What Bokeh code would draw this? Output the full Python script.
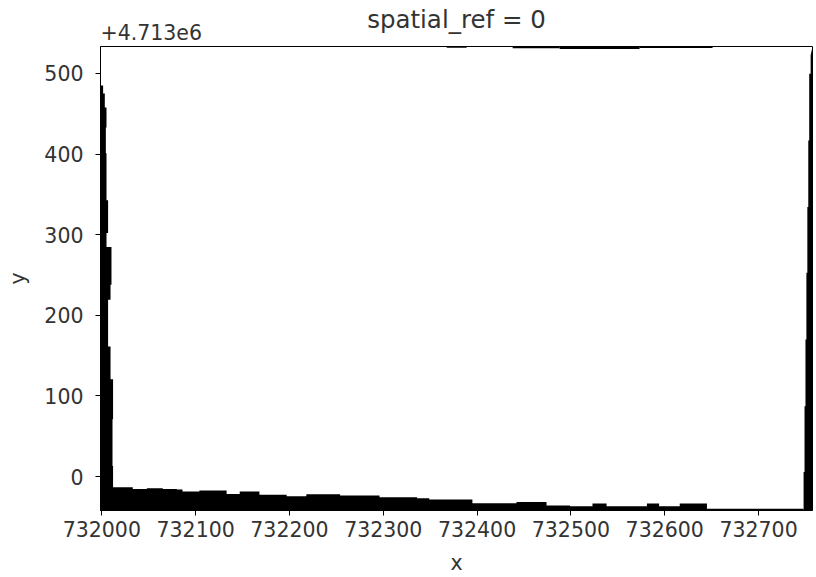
from bokeh.plotting import figure
from bokeh.models import Range1d, Title, FixedTicker, BasicTickFormatter
from bokeh.embed import file_html
from bokeh.resources import INLINE

TITLE = "spatial_ref = 0"
Y_OFFSET_TEXT = "+4.713e6"
X_LABEL = "x"
Y_LABEL = "y"

X_TICKS = [732000, 732100, 732200, 732300, 732400, 732500, 732600, 732700]
Y_TICKS = [0, 100, 200, 300, 400, 500]

# raster extent (y relative to 4.713e6)
X_EXTENT = [731998.6, 732757.5]
Y_EXTENT = [-42.0, 533.3]

# nodata band along the left edge: right boundary x, stepping down from y
LEFT_BAND_Y = [484.8, 474.9, 457.6, 432.9, 400.9, 342.8, 302.1, 284.8, 237.9, 219.4, 161.3, 120.6, 71.2, 13.2]
LEFT_BAND_X = [732001.4, 732003.2, 732005.0, 732004.3, 732005.0, 732006.7, 732005.0, 732010.3, 732009.3, 732006.7, 732009.3, 732012.0, 732011.4, 732012.0]

# nodata band along the bottom edge: top boundary y, stepping right from x
BOTTOM_BAND_X = [732011.7, 732033, 732048, 732065, 732080, 732086, 732104, 732133, 732147, 732168, 732197, 732218, 732254, 732296, 732336, 732349, 732395, 732442, 732474, 732499, 732523, 732538, 732581, 732594, 732616, 732645]
BOTTOM_BAND_Y = [-13.1, -15.2, -14.3, -15.2, -16.0, -18.5, -17.3, -21.4, -18.5, -22.6, -24.2, -21.7, -23.5, -25.5, -26.7, -28.4, -32.9, -31.6, -35.8, -36.6, -33.3, -36.6, -33.3, -36.6, -33.3, -39.9]

# nodata band along the right edge: left boundary x, stepping down from y
RIGHT_BAND_Y = [522.0, 499.6, 416.9, 334.2, 252.7, 170.0, 87.3, 5.8]
RIGHT_BAND_X = [732755.5, 732754.0, 732753.0, 732752.0, 732751.0, 732750.0, 732749.0, 732748.0]

# small nodata pieces along the top edge
TOP_BAND_X0 = [732367.6, 732437.9, 732488.0, 732573.2]
TOP_BAND_X1 = [732388.9, 732488.0, 732573.2, 732651.0]
TOP_BAND_Y = [531.8, 531.0, 530.3, 531.3]

x0, x1 = X_EXTENT
y0, y1 = Y_EXTENT

# build polygons from the boundary profiles
lb_x = [x0, x0]
lb_y = [y0, LEFT_BAND_Y[0]]
for i, (yy, xx) in enumerate(zip(LEFT_BAND_Y, LEFT_BAND_X)):
    y_next = LEFT_BAND_Y[i + 1] if i + 1 < len(LEFT_BAND_Y) else BOTTOM_BAND_Y[0]
    lb_x += [xx, xx]
    lb_y += [yy, y_next]
for i, (xx, yy) in enumerate(zip(BOTTOM_BAND_X, BOTTOM_BAND_Y)):
    x_next = BOTTOM_BAND_X[i + 1] if i + 1 < len(BOTTOM_BAND_X) else RIGHT_BAND_X[-1]
    lb_x += [xx, x_next]
    lb_y += [yy, yy]
lb_x += [RIGHT_BAND_X[-1]]
lb_y += [y0]

rb_x = [x1, x1]
rb_y = [y0, y1]
for i, (yy, xx) in enumerate(zip(RIGHT_BAND_Y, RIGHT_BAND_X)):
    y_next = RIGHT_BAND_Y[i + 1] if i + 1 < len(RIGHT_BAND_Y) else y0
    rb_x += [xx, xx]
    rb_y += [yy, y_next]

p = figure(width=816, height=577,
           x_range=Range1d(x0, x1), y_range=Range1d(y0, y1),
           output_backend="svg", toolbar_location=None, title_location=None,
           min_border_left=100, min_border_right=4,
           min_border_top=46, min_border_bottom=65)

p.patches([lb_x, rb_x], [lb_y, rb_y], fill_color="black", line_color=None)
p.quad(left=TOP_BAND_X0, right=TOP_BAND_X1, bottom=TOP_BAND_Y,
       top=[y1] * len(TOP_BAND_Y), fill_color="black", line_color=None)

TXT = "#333333"
FONT = "DejaVu Sans"

p.xgrid.visible = False
p.ygrid.visible = False
p.background_fill_color = "white"
p.border_fill_color = "white"
p.outline_line_color = "black"
p.outline_line_width = 1

p.xaxis.ticker = FixedTicker(ticks=X_TICKS)
p.yaxis.ticker = FixedTicker(ticks=Y_TICKS)
p.xaxis.formatter = BasicTickFormatter(use_scientific=False)
p.yaxis.formatter = BasicTickFormatter(use_scientific=False)

for ax in (p.xaxis, p.yaxis):
    ax.axis_line_color = "black"
    ax.major_tick_line_color = "black"
    ax.minor_tick_line_color = None
    ax.major_tick_in = 0
    ax.major_tick_out = 5
    ax.major_label_text_font = FONT
    ax.major_label_text_font_size = "20.5px"
    ax.major_label_text_color = TXT
    ax.axis_label_text_font = FONT
    ax.axis_label_text_font_size = "20.5px"
    ax.axis_label_text_color = TXT
    ax.axis_label_text_font_style = "normal"

p.xaxis.axis_label = X_LABEL
p.yaxis.axis_label = Y_LABEL
p.xaxis.major_label_standoff = 5
p.xaxis.axis_label_standoff = 11
p.yaxis.major_label_standoff = 12
p.yaxis.axis_label_standoff = 11

offset_title = Title(text=Y_OFFSET_TEXT, align="left", text_font=FONT,
                     text_font_size="20.5px", text_font_style="normal",
                     text_color=TXT, standoff=13)
main_title = Title(text=TITLE, align="center", text_font=FONT,
                   text_font_size="24.5px", text_font_style="normal",
                   text_color=TXT, standoff=-36)
p.add_layout(offset_title, "above")
p.add_layout(main_title, "above")

open("out.html", "w").write(file_html(p, INLINE))
